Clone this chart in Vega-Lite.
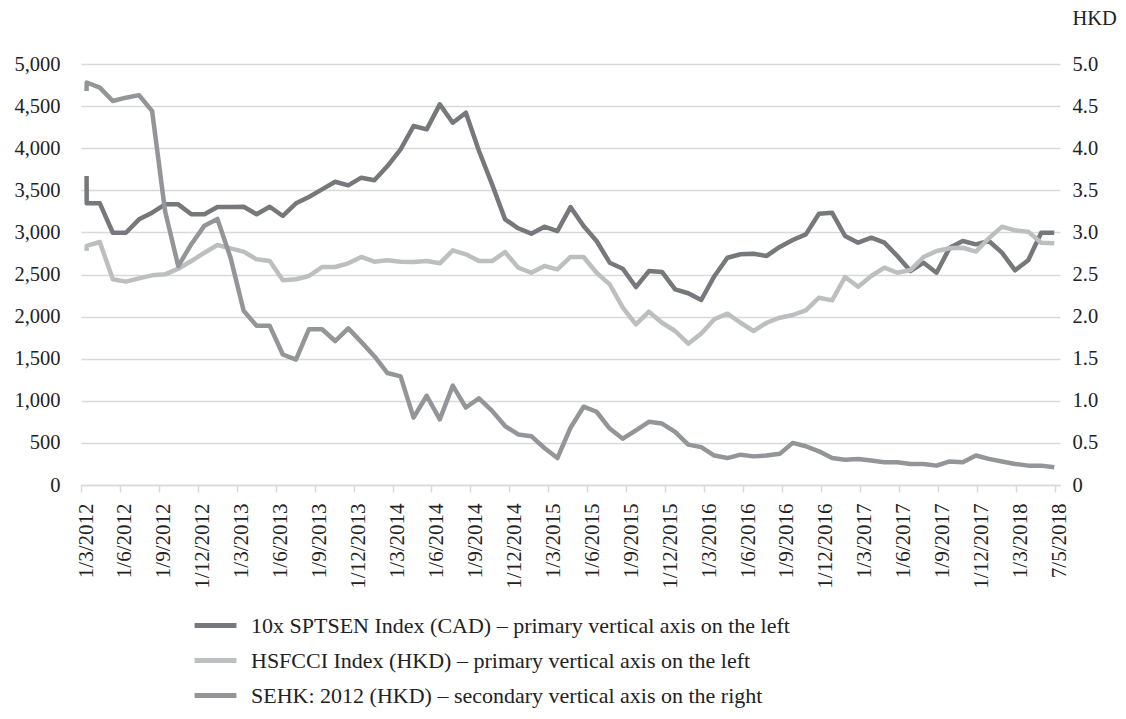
{
  "$schema": "https://vega.github.io/schema/vega-lite/v6.json",
  "width": 979,
  "height": 421,
  "autosize": "none",
  "padding": {"left": 81, "top": 64, "right": 66, "bottom": 234},
  "background": "white",
  "config": {"view": {"stroke": null}, "font": "Liberation Serif"},
  "data": {"values": [
    {"t": 0.43, "SPTSEN": 3670, "HSFCCI": 2780, "SEHK": 4.68},
    {"t": 0.44, "SPTSEN": 3345, "HSFCCI": 2840, "SEHK": 4.78},
    {"t": 1.45, "SPTSEN": 3345, "HSFCCI": 2886, "SEHK": 4.72},
    {"t": 2.45, "SPTSEN": 2996, "HSFCCI": 2443, "SEHK": 4.56},
    {"t": 3.46, "SPTSEN": 2996, "HSFCCI": 2415, "SEHK": 4.60},
    {"t": 4.47, "SPTSEN": 3155, "HSFCCI": 2454, "SEHK": 4.63},
    {"t": 5.48, "SPTSEN": 3234, "HSFCCI": 2490, "SEHK": 4.44},
    {"t": 6.48, "SPTSEN": 3333, "HSFCCI": 2502, "SEHK": 3.25},
    {"t": 7.49, "SPTSEN": 3333, "HSFCCI": 2569, "SEHK": 2.60},
    {"t": 8.50, "SPTSEN": 3215, "HSFCCI": 2660, "SEHK": 2.86},
    {"t": 9.51, "SPTSEN": 3215, "HSFCCI": 2759, "SEHK": 3.08},
    {"t": 10.51, "SPTSEN": 3301, "HSFCCI": 2850, "SEHK": 3.16},
    {"t": 11.52, "SPTSEN": 3301, "HSFCCI": 2811, "SEHK": 2.70},
    {"t": 12.53, "SPTSEN": 3305, "HSFCCI": 2771, "SEHK": 2.07},
    {"t": 13.53, "SPTSEN": 3215, "HSFCCI": 2680, "SEHK": 1.89},
    {"t": 14.54, "SPTSEN": 3305, "HSFCCI": 2660, "SEHK": 1.89},
    {"t": 15.55, "SPTSEN": 3195, "HSFCCI": 2431, "SEHK": 1.55},
    {"t": 16.56, "SPTSEN": 3345, "HSFCCI": 2443, "SEHK": 1.49},
    {"t": 17.56, "SPTSEN": 3420, "HSFCCI": 2482, "SEHK": 1.85},
    {"t": 18.57, "SPTSEN": 3511, "HSFCCI": 2589, "SEHK": 1.85},
    {"t": 19.58, "SPTSEN": 3602, "HSFCCI": 2589, "SEHK": 1.71},
    {"t": 20.59, "SPTSEN": 3559, "HSFCCI": 2633, "SEHK": 1.86},
    {"t": 21.59, "SPTSEN": 3650, "HSFCCI": 2708, "SEHK": 1.70},
    {"t": 22.60, "SPTSEN": 3619, "HSFCCI": 2652, "SEHK": 1.53},
    {"t": 23.61, "SPTSEN": 3788, "HSFCCI": 2669, "SEHK": 1.33},
    {"t": 24.62, "SPTSEN": 3987, "HSFCCI": 2652, "SEHK": 1.29},
    {"t": 25.62, "SPTSEN": 4263, "HSFCCI": 2648, "SEHK": 0.80},
    {"t": 26.63, "SPTSEN": 4224, "HSFCCI": 2660, "SEHK": 1.06},
    {"t": 27.64, "SPTSEN": 4521, "HSFCCI": 2633, "SEHK": 0.78},
    {"t": 28.64, "SPTSEN": 4303, "HSFCCI": 2787, "SEHK": 1.18},
    {"t": 29.65, "SPTSEN": 4422, "HSFCCI": 2740, "SEHK": 0.92},
    {"t": 30.66, "SPTSEN": 3967, "HSFCCI": 2660, "SEHK": 1.03},
    {"t": 31.67, "SPTSEN": 3571, "HSFCCI": 2660, "SEHK": 0.88},
    {"t": 32.67, "SPTSEN": 3155, "HSFCCI": 2767, "SEHK": 0.70},
    {"t": 33.68, "SPTSEN": 3049, "HSFCCI": 2581, "SEHK": 0.60},
    {"t": 34.69, "SPTSEN": 2985, "HSFCCI": 2521, "SEHK": 0.58},
    {"t": 35.70, "SPTSEN": 3068, "HSFCCI": 2601, "SEHK": 0.44},
    {"t": 36.70, "SPTSEN": 3016, "HSFCCI": 2561, "SEHK": 0.32},
    {"t": 37.71, "SPTSEN": 3301, "HSFCCI": 2708, "SEHK": 0.68},
    {"t": 38.72, "SPTSEN": 3076, "HSFCCI": 2708, "SEHK": 0.93},
    {"t": 39.72, "SPTSEN": 2898, "HSFCCI": 2521, "SEHK": 0.87},
    {"t": 40.73, "SPTSEN": 2640, "HSFCCI": 2383, "SEHK": 0.67},
    {"t": 41.74, "SPTSEN": 2569, "HSFCCI": 2106, "SEHK": 0.55},
    {"t": 42.75, "SPTSEN": 2351, "HSFCCI": 1908, "SEHK": 0.65},
    {"t": 43.75, "SPTSEN": 2541, "HSFCCI": 2058, "SEHK": 0.75},
    {"t": 44.76, "SPTSEN": 2530, "HSFCCI": 1927, "SEHK": 0.73},
    {"t": 45.77, "SPTSEN": 2324, "HSFCCI": 1829, "SEHK": 0.63},
    {"t": 46.78, "SPTSEN": 2277, "HSFCCI": 1678, "SEHK": 0.48},
    {"t": 47.78, "SPTSEN": 2197, "HSFCCI": 1800, "SEHK": 0.45},
    {"t": 48.79, "SPTSEN": 2480, "HSFCCI": 1968, "SEHK": 0.35},
    {"t": 49.80, "SPTSEN": 2699, "HSFCCI": 2035, "SEHK": 0.32},
    {"t": 50.81, "SPTSEN": 2740, "HSFCCI": 1927, "SEHK": 0.36},
    {"t": 51.81, "SPTSEN": 2747, "HSFCCI": 1829, "SEHK": 0.34},
    {"t": 52.82, "SPTSEN": 2720, "HSFCCI": 1927, "SEHK": 0.35},
    {"t": 53.83, "SPTSEN": 2827, "HSFCCI": 1987, "SEHK": 0.37},
    {"t": 54.83, "SPTSEN": 2910, "HSFCCI": 2019, "SEHK": 0.50},
    {"t": 55.84, "SPTSEN": 2977, "HSFCCI": 2075, "SEHK": 0.46},
    {"t": 56.85, "SPTSEN": 3222, "HSFCCI": 2224, "SEHK": 0.40},
    {"t": 57.86, "SPTSEN": 3234, "HSFCCI": 2193, "SEHK": 0.32},
    {"t": 58.86, "SPTSEN": 2957, "HSFCCI": 2470, "SEHK": 0.30},
    {"t": 59.87, "SPTSEN": 2878, "HSFCCI": 2355, "SEHK": 0.31},
    {"t": 60.88, "SPTSEN": 2937, "HSFCCI": 2482, "SEHK": 0.29},
    {"t": 61.89, "SPTSEN": 2878, "HSFCCI": 2581, "SEHK": 0.27},
    {"t": 62.89, "SPTSEN": 2720, "HSFCCI": 2521, "SEHK": 0.27},
    {"t": 63.90, "SPTSEN": 2541, "HSFCCI": 2553, "SEHK": 0.25},
    {"t": 64.91, "SPTSEN": 2640, "HSFCCI": 2708, "SEHK": 0.25},
    {"t": 65.91, "SPTSEN": 2521, "HSFCCI": 2779, "SEHK": 0.23},
    {"t": 66.92, "SPTSEN": 2818, "HSFCCI": 2811, "SEHK": 0.28},
    {"t": 67.93, "SPTSEN": 2898, "HSFCCI": 2818, "SEHK": 0.27},
    {"t": 68.94, "SPTSEN": 2858, "HSFCCI": 2771, "SEHK": 0.35},
    {"t": 69.94, "SPTSEN": 2898, "HSFCCI": 2930, "SEHK": 0.31},
    {"t": 70.95, "SPTSEN": 2759, "HSFCCI": 3068, "SEHK": 0.28},
    {"t": 71.96, "SPTSEN": 2550, "HSFCCI": 3025, "SEHK": 0.25},
    {"t": 72.97, "SPTSEN": 2669, "HSFCCI": 3009, "SEHK": 0.23},
    {"t": 73.97, "SPTSEN": 2996, "HSFCCI": 2878, "SEHK": 0.23},
    {"t": 74.98, "SPTSEN": 2996, "HSFCCI": 2870, "SEHK": 0.21}
  ]},
  "transform": [{"fold": ["SPTSEN", "HSFCCI", "SEHK"], "as": ["series", "value"]}],
  "encoding": {
    "x": {
      "field": "t", "type": "quantitative",
      "scale": {"domain": [0, 75.42], "nice": false, "zero": false},
      "axis": {
        "title": null, "grid": false,
        "values": [0, 3, 6, 9, 12, 15, 18, 21, 24, 27, 30, 33, 36, 39, 42, 45, 48, 51, 54, 57, 60, 63, 66, 69, 72, 75],
        "labelExpr": "datum.value == 75 ? '7/5/2018' : '1/' + ((datum.value % 12 + 2) % 12 + 1) + '/' + (2012 + floor((datum.value + 2) / 12))",
        "labelAngle": 270, "labelAlign": "right", "labelBaseline": "middle",
        "labelFont": "Liberation Serif", "labelFontSize": 21, "labelColor": "#222222",
        "labelPadding": 11, "labelOffset": 5, "labelOverlap": false, "labelFlush": false,
        "tickSize": 7, "tickColor": "#d9d9d9", "tickWidth": 1.5,
        "domainColor": "#d9d9d9", "domainWidth": 1.5
      }
    },
    "color": {
      "field": "series", "type": "nominal",
      "scale": {"domain": ["SPTSEN", "HSFCCI", "SEHK"], "range": ["#77787b", "#bcbec0", "#939598"]},
      "legend": {
        "orient": "none", "legendX": 111, "legendY": 538, "direction": "vertical",
        "title": null, "padding": 0,
        "symbolType": "stroke", "symbolSize": 1750, "symbolStrokeWidth": 5,
        "labelFont": "Liberation Serif", "labelFontSize": 22, "labelColor": "#222222",
        "labelLimit": 1000, "labelOffset": 12, "rowPadding": -9,
        "labelExpr": "datum.value == 'SPTSEN' ? '10x SPTSEN Index (CAD) – primary vertical axis on the left' : datum.value == 'HSFCCI' ? 'HSFCCI Index (HKD) – primary vertical axis on the left' : 'SEHK: 2012 (HKD) – secondary vertical axis on the right'"
      }
    }
  },
  "layer": [
    {
      "transform": [{"filter": "datum.series != 'SEHK'"}],
      "mark": {"type": "line", "strokeWidth": 4.5, "strokeJoin": "round"},
      "encoding": {
        "y": {
          "field": "value", "type": "quantitative",
          "scale": {"domain": [0, 5000], "nice": false},
          "axis": {
            "orient": "left", "title": null, "values": [0, 500, 1000, 1500, 2000, 2500, 3000, 3500, 4000, 4500, 5000],
            "format": ",d", "grid": true, "gridColor": "#d9d9d9", "gridWidth": 1.5,
            "domain": false, "ticks": false, "labelPadding": 21,
            "labelFont": "Liberation Serif", "labelFontSize": 20.5, "labelColor": "#222222"
          }
        }
      }
    },
    {
      "transform": [{"filter": "datum.series == 'SEHK'"}],
      "mark": {"type": "line", "strokeWidth": 4.5, "strokeJoin": "round"},
      "encoding": {
        "y": {
          "field": "value", "type": "quantitative",
          "scale": {"domain": [0, 5], "nice": false},
          "axis": {
            "orient": "right", "values": [0, 0.5, 1, 1.5, 2, 2.5, 3, 3.5, 4, 4.5, 5],
            "labelExpr": "datum.value == 0 ? '0' : format(datum.value, '.1f')",
            "grid": false, "domain": false, "ticks": false, "labelPadding": 12,
            "labelFont": "Liberation Serif", "labelFontSize": 20.5, "labelColor": "#222222",
            "title": "HKD", "titleAngle": 0, "titleX": 12, "titleY": -46,
            "titleAlign": "left", "titleBaseline": "middle",
            "titleFont": "Liberation Serif", "titleFontSize": 20.5, "titleFontWeight": "normal", "titleColor": "#222222"
          }
        }
      }
    }
  ],
  "resolve": {"scale": {"y": "independent"}}
}
